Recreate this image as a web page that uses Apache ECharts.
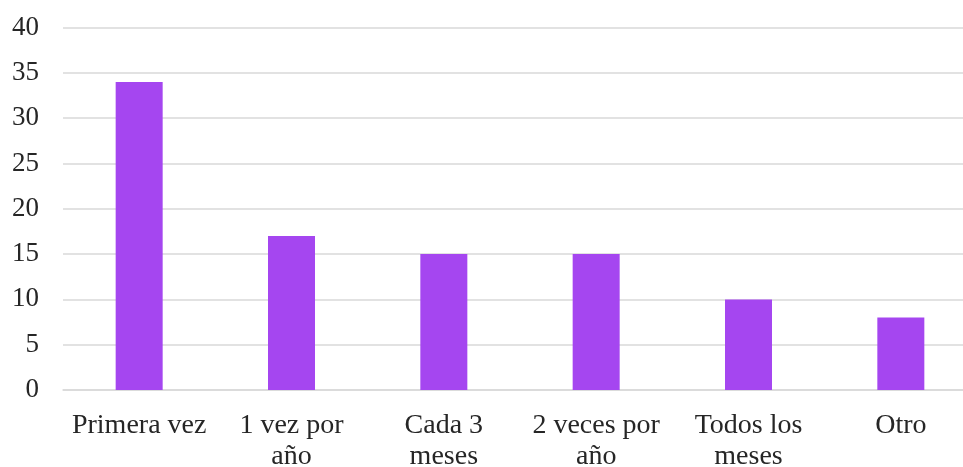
<!DOCTYPE html>
<html>
<head>
<meta charset="utf-8">
<script src="https://cdn.jsdelivr.net/npm/echarts@6/dist/echarts.min.js"></script>
<style>
  html, body { margin: 0; padding: 0; background: #ffffff; overflow: hidden; }
  /* the plot runs slightly past the right edge of the window */
  #chart { width: 977px; height: 467px; }
</style>
</head>
<body>
<div id="chart"></div>
<script>
// Frecuencia de visitas
const categories = ['Primera vez', '1 vez por\naño', 'Cada 3\nmeses', '2 veces por\naño', 'Todos los\nmeses', 'Otro'];
const values = [34, 17, 15, 15, 10, 8];
const yTicks = { min: 0, max: 40, interval: 5 };

const font = '"Liberation Serif", "Times New Roman", serif';
const chart = echarts.init(document.getElementById('chart'), null, { renderer: 'canvas' });

chart.setOption({
  animation: false,
  backgroundColor: '#ffffff',
  grid: {
    left: 63, right: 0, top: 27.5, bottom: 77,
    containLabel: false,
    outerBoundsMode: 'none'
  },
  xAxis: {
    type: 'category',
    data: categories,
    axisLine: { show: true, lineStyle: { color: '#d9d9d9', width: 1.5 } },
    axisTick: { show: false },
    axisLabel: {
      color: '#262626',
      fontFamily: font,
      fontSize: 28,
      lineHeight: 31,
      margin: 20,
      interval: 0
    }
  },
  yAxis: {
    type: 'value',
    min: yTicks.min,
    max: yTicks.max,
    interval: yTicks.interval,
    axisLine: { show: false },
    axisTick: { show: false },
    splitLine: { lineStyle: { color: '#d9d9d9', width: 1.5 } },
    axisLabel: {
      color: '#262626',
      fontFamily: font,
      fontSize: 27,
      margin: 24
    }
  },
  series: [{
    type: 'bar',
    data: values,
    barWidth: 47,
    itemStyle: { color: '#a546f0' }
  }]
});
</script>
</body>
</html>
